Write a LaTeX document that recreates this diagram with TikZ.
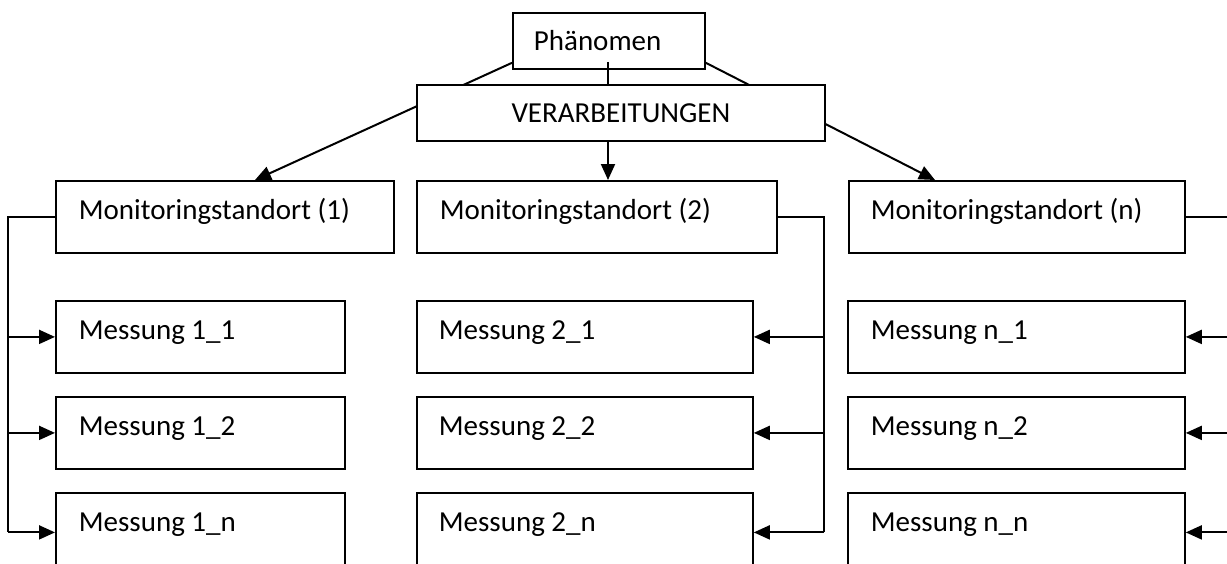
\documentclass[tikz,border=0pt]{standalone}
\usepackage{fontspec}
\setmainfont{Carlito}
\usetikzlibrary{arrows.meta}
\tikzset{
  box/.style={draw, line width=1.8pt, fill=white, inner sep=0pt, anchor=north west,
    align=flush left, font=\fontsize{29}{34}\selectfont},
  bigbox/.style={box, text height=39pt, text depth=33pt},
  smallbox/.style={box, text height=38pt, text depth=18pt},
  conn/.style={line width=2pt},
  arr/.style={conn, -{Triangle[length=16pt,width=14pt]}}
}
\begin{document}
\begin{tikzpicture}[x=1pt,y=-1pt]
\useasboundingbox (0,0) rectangle (1227,563);
\clip (0,0) rectangle (1227,563);
% top boxes
\node[smallbox, text width=192pt] (phaen) at (512,12) {\hspace*{21pt}Phänomen};
% monitoring sites
\node[bigbox, text width=338pt] (m1) at (55,180) {\hspace*{23pt}Monitoringstandort (1)};
\node[bigbox, text width=360pt] (m2) at (416,180) {\hspace*{23pt}Monitoringstandort (2)};
\node[bigbox, text width=336pt] (mn) at (848,180) {\hspace*{22pt}Monitoringstandort (n)};
% lines from Phaenomen (passing behind VERARBEITUNGEN)
\draw[arr] ([yshift=7pt]phaen.south west) -- (255,0 |- m1.north);
\draw[arr] ([yshift=7pt]phaen.south east) -- (935,0 |- mn.north);
\node[smallbox, text width=408pt, align=flush center] (verarb) at (416,84) {VERARBEITUNGEN};
\draw[conn] ([yshift=8pt]phaen.south -| 608,0) -- (608,0 |- verarb.north);
\draw[arr] (608,0 |- verarb.south) -- (608,0 |- m2.north);
% measurements column 1
\node[bigbox, text width=289pt] (m11) at (55,300) {\hspace*{23pt}Messung 1\_1};
\node[bigbox, text width=289pt] (m12) at (55,396) {\hspace*{23pt}Messung 1\_2};
\node[bigbox, text width=289pt, text depth=40pt] (m1n) at (55,492) {\hspace*{23pt}Messung 1\_n};
% column 2
\node[bigbox, text width=336pt] (m21) at (416,300) {\hspace*{22pt}Messung 2\_1};
\node[bigbox, text width=336pt] (m22) at (416,396) {\hspace*{22pt}Messung 2\_2};
\node[bigbox, text width=336pt, text depth=40pt] (m2n) at (416,492) {\hspace*{22pt}Messung 2\_n};
% column n
\node[bigbox, text width=337pt] (mn1) at (847,300) {\hspace*{23pt}Messung n\_1};
\node[bigbox, text width=337pt] (mn2) at (847,396) {\hspace*{23pt}Messung n\_2};
\node[bigbox, text width=337pt, text depth=40pt] (mnn) at (847,492) {\hspace*{23pt}Messung n\_n};
% feeders column 1
\coordinate (f1) at (8,0 |- m1.west);
\draw[conn] (m1.west) -- (f1) -- (f1 |- m1n.west);
\draw[arr] (f1 |- m11.west) -- (m11.west);
\draw[arr] (f1 |- m12.west) -- (m12.west);
\draw[arr] (f1 |- m1n.west) -- (m1n.west);
% feeders column 2
\coordinate (f2) at (824,0 |- m2.east);
\draw[conn] (m2.east) -- (f2) -- (f2 |- m2n.east);
\draw[arr] (f2 |- m21.east) -- (m21.east);
\draw[arr] (f2 |- m22.east) -- (m22.east);
\draw[arr] (f2 |- m2n.east) -- (m2n.east);
% feeders column n
\coordinate (fn) at (1240,0 |- mn.east);
\draw[conn] (mn.east) -- (fn) -- (fn |- mnn.east);
\draw[arr] (fn |- mn1.east) -- (mn1.east);
\draw[arr] (fn |- mn2.east) -- (mn2.east);
\draw[arr] (fn |- mnn.east) -- (mnn.east);
\end{tikzpicture}
\end{document}
